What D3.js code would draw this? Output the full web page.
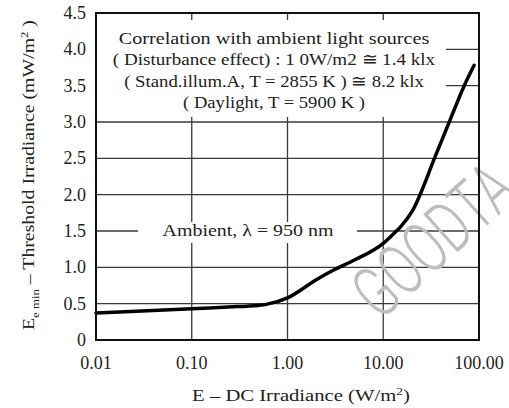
<!doctype html>
<html lang="en">
<head>
  <meta charset="utf-8">
  <title>Threshold irradiance</title>
  <script src="https://cdnjs.cloudflare.com/ajax/libs/d3/7.8.5/d3.min.js"></script>
  <style>
    body { margin: 0; background: #fff; }
  </style>
</head>
<body>
<svg id="chart" width="509" height="408"></svg>
<script>
// curve
var irradiance = [0.01, 0.1, 0.3, 0.45, 0.6, 1, 2, 3, 5, 10, 13, 15, 20, 35, 51, 73, 89];
var threshold  = [0.37, 0.43, 0.46, 0.47, 0.49, 0.58, 0.83, 0.96, 1.1, 1.33, 1.47, 1.55, 1.77, 2.53, 3.06, 3.55, 3.78];

var xTicks = [0.01, 0.1, 1, 10, 100];
var xTickLabels = ["0.01", "0.10", "1.00", "10.00", "100.00"];
var yTicks = [0, 0.5, 1, 1.5, 2, 2.5, 3, 3.5, 4, 4.5];
var yTickLabels = ["0", "0.5", "1.0", "1.5", "2.0", "2.5", "3.0", "3.5", "4.0", "4.5"];

var noteLines = [
  "Correlation with ambient light sources",
  "( Disturbance effect) : 1 0W/m2 \u2245 1.4 klx",
  "( Stand.illum.A, T = 2855 K ) \u2245 8.2 klx",
  "( Daylight, T = 5900 K )"
];
var noteWidths = [311, 323, 300, 182];

var serif = "'Liberation Serif', 'Times New Roman', 'DejaVu Serif', serif";
var svg = d3.select("#chart");
var L = 96, R = 479, T = 13, B = 340;

var x = d3.scaleLog().domain([0.01, 100]).range([L, R]);
var y = d3.scaleLinear().domain([0, 4.5]).range([B, T]);

// squeeze/stretch a text to the width seen in the picture
function stretch(t, w, cx) {
  var bw = t.node().getBBox().width;
  t.attr("transform", "translate(" + cx + ",0) scale(" + (w / bw) + ",1) translate(" + (-cx) + ",0)");
}

// grid
svg.selectAll(".hg").data(yTicks.slice(1, -1)).enter().append("line")
  .attr("x1", L).attr("x2", R)
  .attr("y1", function(d) { return y(d); }).attr("y2", function(d) { return y(d); })
  .attr("stroke", "#3a3a3a").attr("stroke-width", 1.3);
svg.selectAll(".vg").data(xTicks.slice(1, -1)).enter().append("line")
  .attr("x1", function(d) { return x(d); }).attr("x2", function(d) { return x(d); })
  .attr("y1", T).attr("y2", B)
  .attr("stroke", "#3a3a3a").attr("stroke-width", 1.3);

// white boxes behind the notes
svg.append("rect").attr("x", L + 1).attr("y", 20).attr("width", 446 - L - 1).attr("height", 97).attr("fill", "#fff");
svg.append("rect").attr("x", 138).attr("y", 222).attr("width", 219).attr("height", 21).attr("fill", "#fff");

// watermark (runs off the right edge, as in the picture)
svg.append("text")
  .attr("transform", "translate(380,322) rotate(-42) scale(0.68,1)")
  .attr("font-family", "Roboto, 'Liberation Sans', sans-serif")
  .attr("font-size", 72).attr("font-weight", 300)
  .attr("fill", "#bdbdbd")
  .text("GOODTA");

// curve
var line = d3.line()
  .x(function(d) { return x(d[0]); })
  .y(function(d) { return y(d[1]); })
  .curve(d3.curveMonotoneX);
svg.append("path")
  .datum(d3.zip(irradiance, threshold))
  .attr("d", line)
  .attr("fill", "none").attr("stroke", "#000").attr("stroke-width", 3.5)
  .attr("stroke-linejoin", "round").attr("stroke-linecap", "round");

// frame
svg.append("rect").attr("x", L).attr("y", T).attr("width", R - L).attr("height", B - T)
  .attr("fill", "none").attr("stroke", "#111").attr("stroke-width", 2);

// tick labels
svg.selectAll(".yl").data(yTicks).enter().append("text")
  .attr("x", 86).attr("y", function(d) { return y(d) + 6; })
  .attr("text-anchor", "end").attr("font-family", serif).attr("font-size", 18).attr("fill", "#222")
  .text(function(d, i) { return yTickLabels[i]; });
svg.selectAll(".xl").data(xTicks).enter().append("text")
  .attr("x", function(d) { return x(d); }).attr("y", 369)
  .attr("text-anchor", "middle").attr("font-family", serif).attr("font-size", 18).attr("fill", "#222")
  .text(function(d, i) { return xTickLabels[i]; });

// notes
noteLines.forEach(function(s, i) {
  var t = svg.append("text")
    .attr("x", 274).attr("y", 44 + i * 21.5)
    .attr("text-anchor", "middle").attr("font-family", serif).attr("font-size", 17).attr("fill", "#222")
    .text(s);
  stretch(t, noteWidths[i], 274);
});

var amb = svg.append("text").attr("x", 248).attr("y", 236)
  .attr("text-anchor", "middle").attr("font-family", serif).attr("font-size", 17).attr("fill", "#222")
  .text("Ambient, \u03bb = 950 nm");
stretch(amb, 171, 248);

// axis titles
var xt = svg.append("text").attr("x", 301).attr("y", 401)
  .attr("text-anchor", "middle").attr("font-family", serif).attr("font-size", 17).attr("fill", "#222");
xt.append("tspan").text("E \u2013 DC Irradiance (W/m");
xt.append("tspan").attr("font-size", 11).attr("dy", -6).text("2");
xt.append("tspan").attr("dy", 6).text(")");
stretch(xt, 218, 301);

var ytg = svg.append("g").attr("transform", "translate(34,175) rotate(-90)");
var yt = ytg.append("text").attr("x", 0).attr("y", 0)
  .attr("text-anchor", "middle").attr("font-family", serif).attr("font-size", 17).attr("fill", "#222");
yt.append("tspan").text("E");
yt.append("tspan").attr("font-size", 11).attr("dy", 5).text("e min");
yt.append("tspan").attr("dy", -5).text("  \u2013  Threshold Irradiance (mW/m");
yt.append("tspan").attr("font-size", 11).attr("dy", -6).text("2");
yt.append("tspan").attr("dy", 6).text(" )");
stretch(yt, 310, 0);
</script>
</body>
</html>
